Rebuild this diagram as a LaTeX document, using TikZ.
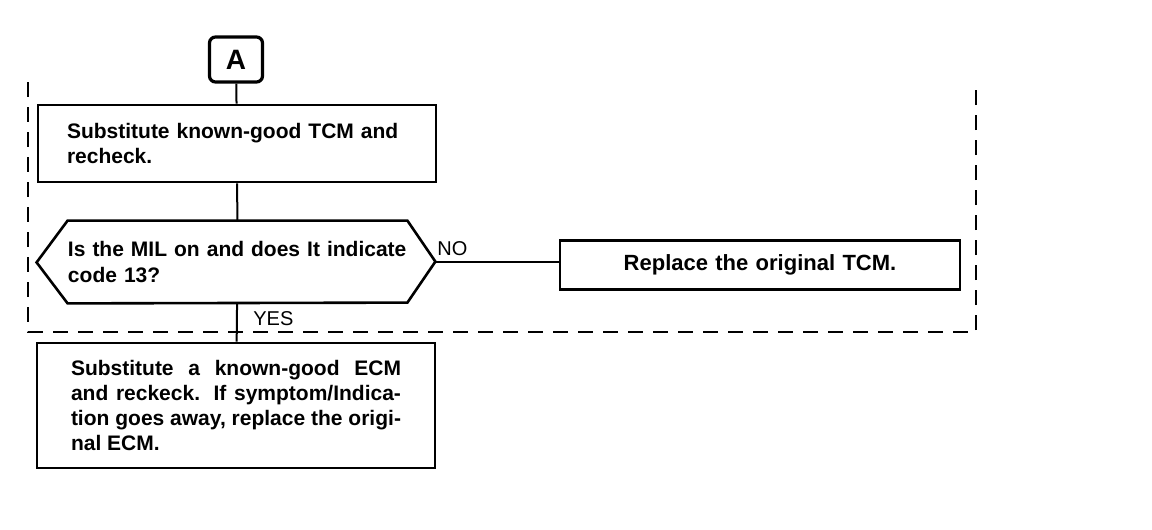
\documentclass[tikz,border=0pt]{standalone}
\usepackage{fontspec}
\setmainfont{Liberation Sans}
\usetikzlibrary{positioning}

\tikzset{
    stepbox/.style={draw,line width=1.3pt,text width=165pt,inner xsep=17pt,
            font=\bfseries\fontsize{10.5}{12.5}\selectfont},
    lbl/.style={inner sep=0pt,font=\fontsize{10}{12}\selectfont},
}

\begin{document}
\begin{tikzpicture}[x=0.5pt,y=-0.5pt]
                  \useasboundingbox (0,0) rectangle (1152,530);

                  \node[draw,line width=1.6pt,rounded corners=3pt,minimum width=26.5pt,minimum height=22.5pt,
                      font=\bfseries\fontsize{14}{14}\selectfont] (A) at (236,59.5) {A};

                  \node[stepbox,align=left,text width=170pt,inner xsep=14.5pt,minimum height=38.5pt] (sub) at (237,143.5)
                      {Substitute known-good TCM and\\recheck.};

                  % question
                  \node[inner sep=0pt,text width=169.5pt,minimum height=41pt,align=left,
                      font=\bfseries\fontsize{10.5}{13}\selectfont] (ask) at (237.5,262)
                      {Is the MIL on and does It indicate\\code 13?};
                  \draw[line width=1.3pt] (ask.north west) -- (ask.north east)
                      -- ++(28,41) coordinate (ask-e) -- ++(-28,41) -- (ask.south west)
                      -- ++(-31,-41) coordinate (ask-w) -- cycle;

                  \node[stepbox,text width=166pt,align=center,minimum height=24.5pt,
                      font=\bfseries\fontsize{11}{12.5}\selectfont] (fix) at (760,265)
                      {Replace the original TCM.};

                  \node[stepbox,align=justify,minimum height=62.5pt] (ecm) at (236,405.5)
                      {Substitute a known-good ECM\linebreak and reckeck. If symptom/Indica-\linebreak
                       tion goes away, replace the origi-\linebreak nal ECM.\par\vspace{8pt}};

                  \begin{scope}[line width=1pt]
                      \draw (A) -- (sub);
                      \draw (sub) -- (ask);
                      \draw (ask) -- (ecm);
                      \draw (ask-e) -- (ask-e -| fix.west);
                  \end{scope}

                  \node[lbl,anchor=base west] (no) at (437,255) {NO};
                  \node[lbl,anchor=base west] (yes) at (253,325) {YES};

                  % frame
                  \coordinate (F1) at (28,82);
                  \coordinate (F2) at (28,332);
                  \coordinate (F3) at (976,332);
                  \coordinate (F4) at (976,82);
                  \draw[line width=1.2pt,dash pattern=on 7.5pt off 5pt] (F1) -- (F2) -- (F3) -- (F4);
              \end{tikzpicture}
\end{document}
